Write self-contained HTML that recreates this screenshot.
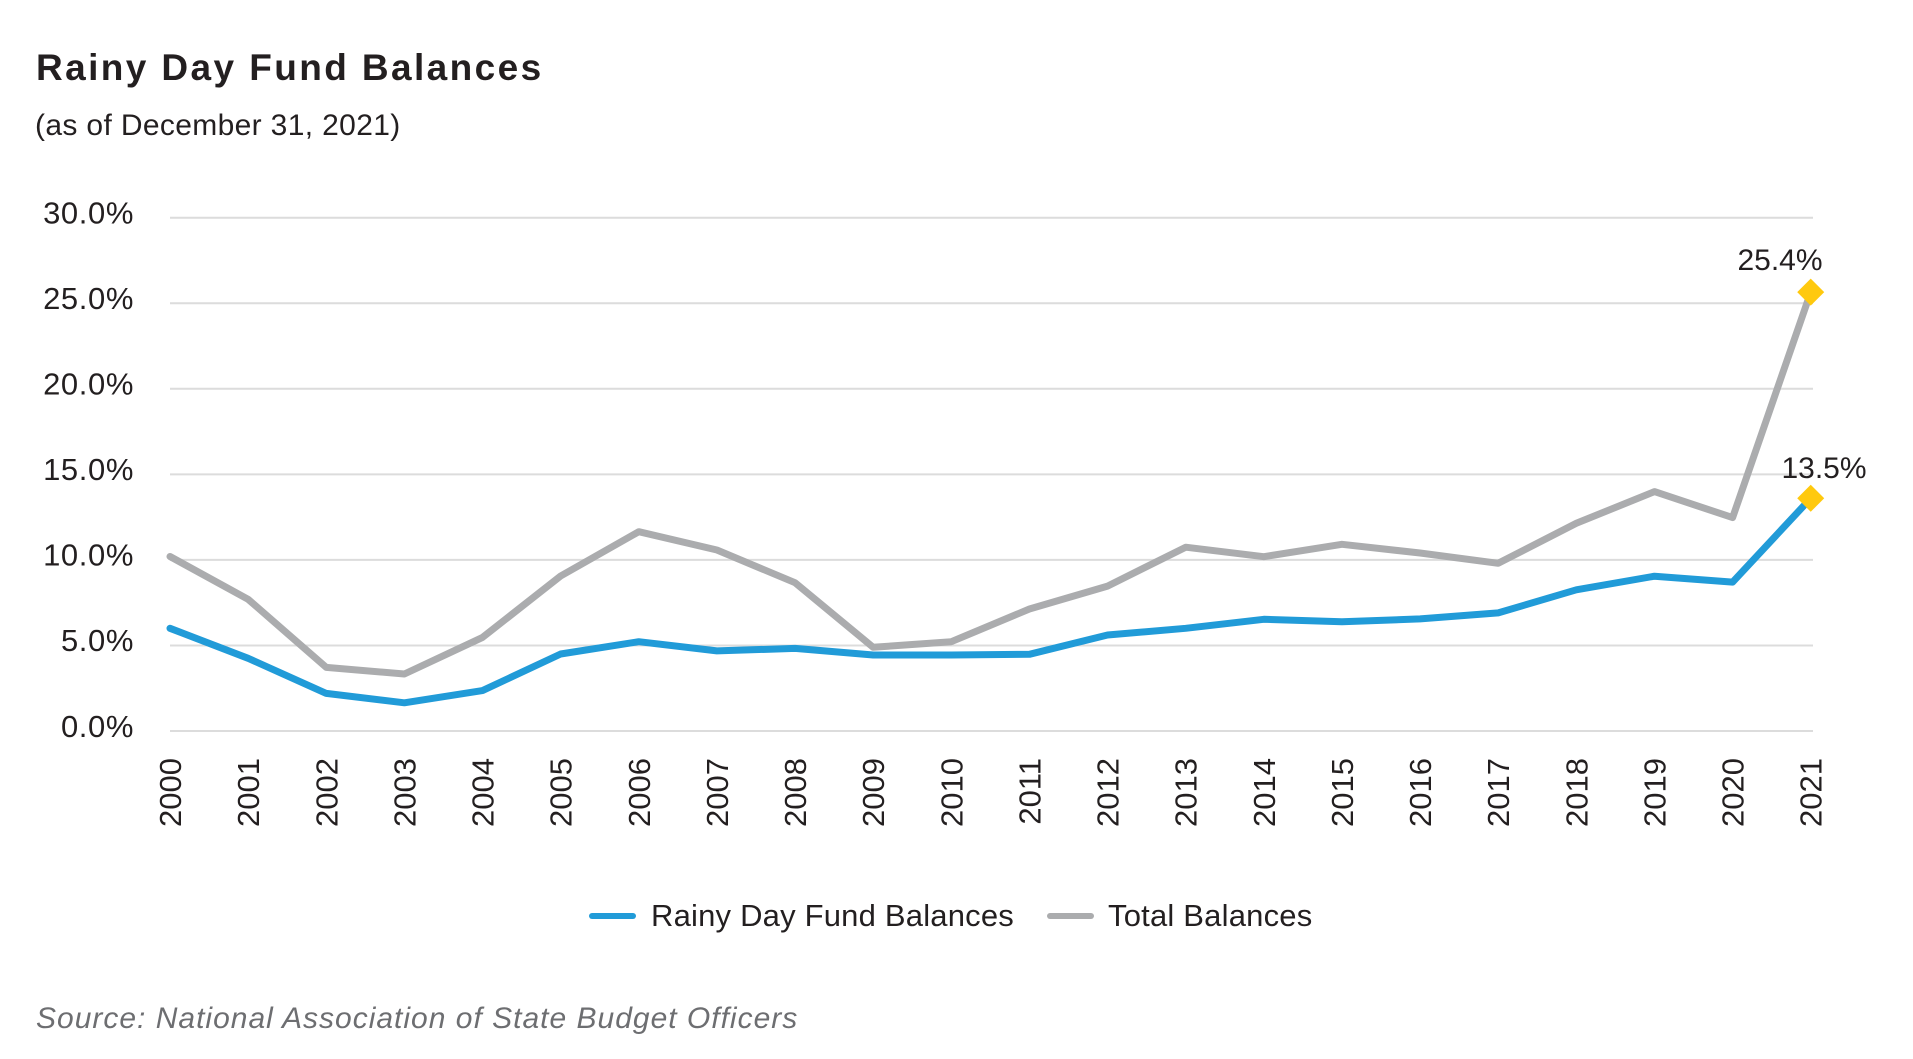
<!DOCTYPE html>
<html>
<head>
<meta charset="utf-8">
<style>
  html, body { margin: 0; padding: 0; background: #ffffff; }
  body { width: 1913px; height: 1059px; overflow: hidden; }
  svg { display: block; }
  text { font-family: "Liberation Sans", Arial, sans-serif; fill: #231f20; }
</style>
</head>
<body>
<svg width="1913" height="1059" viewBox="0 0 1913 1059" xmlns="http://www.w3.org/2000/svg">
  <rect width="1913" height="1059" fill="#ffffff"/>

  <!-- Title -->
  <text x="36" y="80" font-size="37" font-weight="bold" letter-spacing="2.4">Rainy Day Fund Balances</text>
  <text x="35" y="135" font-size="30" letter-spacing="0.35">(as of December 31, 2021)</text>

  <!-- Gridlines -->
  <g stroke="#dcdcdc" stroke-width="2">
    <line x1="170" y1="217.7" x2="1813" y2="217.7"/>
    <line x1="170" y1="303.25" x2="1813" y2="303.25"/>
    <line x1="170" y1="388.8" x2="1813" y2="388.8"/>
    <line x1="170" y1="474.35" x2="1813" y2="474.35"/>
    <line x1="170" y1="559.9" x2="1813" y2="559.9"/>
    <line x1="170" y1="645.45" x2="1813" y2="645.45"/>
    <line x1="170" y1="731" x2="1813" y2="731"/>
  </g>

  <!-- Y axis labels -->
  <g font-size="31" text-anchor="end" letter-spacing="0.6">
    <text x="134" y="223.5">30.0%</text>
    <text x="134" y="309">25.0%</text>
    <text x="134" y="394.5">20.0%</text>
    <text x="134" y="480">15.0%</text>
    <text x="134" y="565.5">10.0%</text>
    <text x="134" y="651">5.0%</text>
    <text x="134" y="737">0.0%</text>
  </g>

  <!-- X axis labels (rotated) -->
  <g font-size="31" text-anchor="end">
    <text transform="translate(181,758) rotate(-90)">2000</text>
    <text transform="translate(259.13,758) rotate(-90)">2001</text>
    <text transform="translate(337.26,758) rotate(-90)">2002</text>
    <text transform="translate(415.39,758) rotate(-90)">2003</text>
    <text transform="translate(493.52,758) rotate(-90)">2004</text>
    <text transform="translate(571.65,758) rotate(-90)">2005</text>
    <text transform="translate(649.78,758) rotate(-90)">2006</text>
    <text transform="translate(727.91,758) rotate(-90)">2007</text>
    <text transform="translate(806.04,758) rotate(-90)">2008</text>
    <text transform="translate(884.17,758) rotate(-90)">2009</text>
    <text transform="translate(962.3,758) rotate(-90)">2010</text>
    <text transform="translate(1040.43,758) rotate(-90)">2011</text>
    <text transform="translate(1118.56,758) rotate(-90)">2012</text>
    <text transform="translate(1196.69,758) rotate(-90)">2013</text>
    <text transform="translate(1274.82,758) rotate(-90)">2014</text>
    <text transform="translate(1352.95,758) rotate(-90)">2015</text>
    <text transform="translate(1431.08,758) rotate(-90)">2016</text>
    <text transform="translate(1509.21,758) rotate(-90)">2017</text>
    <text transform="translate(1587.34,758) rotate(-90)">2018</text>
    <text transform="translate(1665.47,758) rotate(-90)">2019</text>
    <text transform="translate(1743.6,758) rotate(-90)">2020</text>
    <text transform="translate(1821.73,758) rotate(-90)">2021</text>
  </g>

  <!-- Total Balances (gray) -->
  <polyline fill="none" stroke="#abacae" stroke-width="7" stroke-linejoin="round" stroke-linecap="round"
    points="170,556.5 248.13,599.3 326.26,667.4 404.39,674 482.52,637.4 560.65,576 638.78,531.7 716.91,550 795.04,582.7 873.17,647.3 951.3,641.7 1029.43,609 1107.56,586.1 1185.69,547.2 1263.82,556.7 1341.95,544.3 1420.08,553 1498.21,563.3 1576.34,523.3 1654.47,491.6 1732.6,517.6 1810.73,292.1"/>

  <!-- Rainy Day Fund Balances (blue) -->
  <polyline fill="none" stroke="#219bd8" stroke-width="7" stroke-linejoin="round" stroke-linecap="round"
    points="170,628.3 248.13,658.3 326.26,693.4 404.39,702.8 482.52,690.6 560.65,654 638.78,641.7 716.91,650.9 795.04,648.4 873.17,655 951.3,655 1029.43,654.3 1107.56,635 1185.69,628.3 1263.82,619.3 1341.95,621.7 1420.08,618.9 1498.21,612.9 1576.34,589.8 1654.47,576.2 1732.6,582.1 1810.73,498.3"/>

  <!-- Diamond markers -->
  <polygon fill="#ffc90e" points="1810.73,278.6 1824.23,292.1 1810.73,305.6 1797.23,292.1"/>
  <polygon fill="#ffc90e" points="1810.73,484.8 1824.23,498.3 1810.73,511.8 1797.23,498.3"/>

  <!-- Data labels -->
  <text x="1780" y="270" font-size="30" text-anchor="middle">25.4%</text>
  <text x="1824" y="478" font-size="30" text-anchor="middle">13.5%</text>

  <!-- Legend -->
  <line x1="592" y1="916" x2="633" y2="916" stroke="#219bd8" stroke-width="6" stroke-linecap="round"/>
  <text x="651" y="926" font-size="31" letter-spacing="0.2">Rainy Day Fund Balances</text>
  <line x1="1050" y1="916" x2="1091" y2="916" stroke="#abacae" stroke-width="6" stroke-linecap="round"/>
  <text x="1108" y="926" font-size="31" letter-spacing="0.2">Total Balances</text>

  <!-- Source -->
  <text x="36" y="1028" font-size="30" font-style="italic" letter-spacing="1.0" style="fill:#6d6e71">Source: National Association of State Budget Officers</text>
</svg>
</body>
</html>
